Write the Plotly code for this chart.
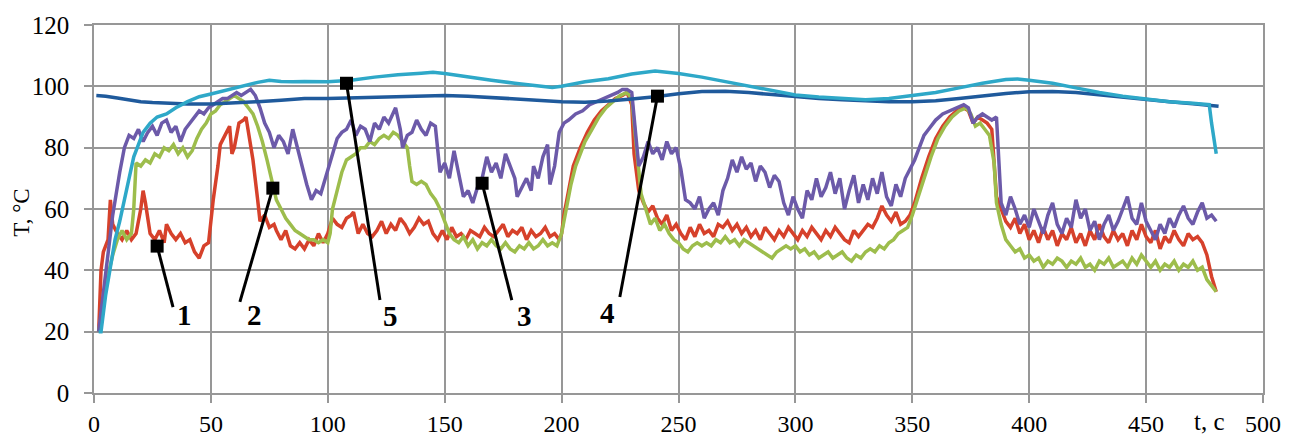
import plotly.graph_objects as go

# ---- data ----
t_red = [2,3,4,6,7,8,10,12,14,16,18,20,21,22,24,26,28,30,31,33,35,37,39,41,43,45,47,49,50,51,53,54,56,58,59,60,62,64,65,66,68,70,71,73,75,77,78,80,82,84,86,88,90,92,94,96,98,100,102,104,106,108,110,111,113,115,117,119,121,123,125,127,129,131,133,135,137,139,141,143,145,147,149,151,153,155,157,159,161,163,165,167,169,171,173,175,177,179,181,183,185,187,189,191,193,195,197,199,200,201,203,205,208,211,214,217,220,223,226,228,230,231,233,235,237,239,241,243,245,247,249,251,253,255,257,259,261,263,265,267,269,271,273,275,277,279,281,283,285,287,289,291,293,295,297,299,301,303,305,307,309,311,313,315,317,319,321,323,325,327,329,331,333,335,337,339,341,343,345,347,349,351,354,357,360,363,366,369,372,374,376,378,380,382,384,385,386,388,390,392,394,396,398,400,402,404,406,408,410,412,414,416,418,420,422,424,426,428,430,432,434,436,438,440,442,444,446,448,450,452,454,456,458,460,462,464,466,468,470,472,474,476,478,480]
T_red = [20,40,46,50,63,55,52,50,53,50,52,60,66,62,52,50,53,49,55,52,50,52,49,50,46,44,48,49,56,63,74,81,84,87,78,80,88,89,90,85,76,63,56,58,54,55,53,50,53,48,47,49,47,50,48,52,49,52,57,55,54,57,58,59,52,55,52,51,53,56,52,55,53,57,55,52,54,57,55,56,52,50,53,50,54,51,52,50,53,52,51,54,52,51,53,55,51,53,52,54,50,53,51,52,54,51,52,50,52,58,66,74,80,85,89,92,94,96,97,98,94,78,66,62,59,61,57,55,58,53,55,52,50,54,51,55,52,53,51,55,54,56,53,55,52,54,51,53,50,54,52,50,53,51,54,52,50,53,51,54,52,50,53,51,54,52,50,49,53,51,53,55,54,57,61,58,56,59,55,56,58,62,70,77,83,87,90,92,93,92,88,90,89,88,86,75,64,60,56,54,57,52,55,50,53,49,54,50,53,48,52,50,54,49,52,48,53,50,55,51,49,53,50,52,48,53,50,55,51,49,53,47,51,49,53,50,48,52,50,51,49,45,38,33]

t_green = [2,5,8,10,12,14,16,17,18,20,22,24,26,28,30,32,34,36,38,40,42,44,46,48,50,52,54,56,58,60,62,64,66,68,70,72,74,76,78,80,82,84,86,88,90,92,94,96,98,100,101,102,104,106,108,110,112,114,116,118,120,122,124,126,128,130,132,134,135,136,138,140,142,144,146,148,150,152,154,156,158,160,162,164,166,168,170,172,174,176,178,180,182,184,186,188,190,192,194,196,198,200,202,204,206,208,210,213,216,219,222,225,228,230,232,234,236,238,240,242,244,246,248,250,252,254,256,258,260,262,264,266,268,270,272,274,276,278,280,282,284,286,288,290,292,294,296,298,300,302,304,306,308,310,312,314,316,318,320,322,324,326,328,330,332,334,336,338,340,342,344,346,348,350,352,355,358,361,364,367,370,373,375,377,379,381,383,385,386,388,390,392,394,396,398,400,402,404,406,408,410,412,414,416,418,420,422,424,426,428,430,432,434,436,438,440,442,444,446,448,450,452,454,456,458,460,462,464,466,468,470,472,474,476,478,480]
T_green = [20,35,45,50,53,50,52,60,75,74,76,75,78,77,80,79,81,78,80,77,79,83,86,88,91,92,94,95,96,97,96,95,93,91,87,82,76,69,63,60,57,55,53,52,51,50,50,49,50,49,52,60,66,72,76,77,78,80,80,82,81,83,84,83,85,84,82,80,74,69,68,69,68,65,63,60,56,52,50,49,51,48,50,47,49,48,50,48,47,49,47,46,48,47,49,47,48,50,48,49,48,52,60,68,74,78,82,86,90,93,95,97,98,96,80,65,60,55,57,53,55,52,50,49,47,46,48,49,48,49,48,50,49,51,49,50,48,50,49,48,47,46,45,44,46,47,48,47,48,46,47,45,46,44,45,46,44,45,46,44,43,45,44,46,47,46,48,47,49,50,52,53,54,58,63,70,77,83,87,90,92,93,91,87,88,86,84,75,62,55,50,48,46,47,44,45,43,44,41,43,42,44,43,41,43,42,44,41,42,40,43,42,44,41,42,43,41,44,42,45,43,41,43,40,42,41,43,40,42,41,43,40,41,37,35,33]

t_purple = [2,5,8,11,13,15,17,19,21,23,25,27,29,31,33,35,37,39,41,43,45,47,49,51,53,55,57,59,61,63,65,67,69,71,73,75,77,79,81,83,85,87,89,91,93,95,97,99,101,102,104,106,108,110,112,114,116,118,120,122,124,126,128,129,131,132,134,136,138,140,142,144,146,148,150,152,154,156,158,160,162,164,166,168,170,172,174,176,178,180,181,183,185,187,188,190,192,194,195,197,199,201,203,206,209,212,215,218,221,224,226,228,230,231,232,233,235,237,239,241,243,245,247,249,251,253,255,257,259,261,263,265,267,269,271,273,275,277,279,281,283,285,287,289,291,293,295,297,299,301,303,305,307,309,311,313,315,317,319,321,323,325,327,329,331,333,335,337,339,341,343,345,347,349,351,353,355,357,360,363,366,369,372,374,376,378,380,382,384,386,387,388,390,392,394,396,398,400,402,404,406,408,410,412,414,416,418,420,422,424,426,428,430,432,434,436,438,440,442,444,446,448,450,452,454,456,458,460,462,464,466,468,470,472,474,476,478,480]
T_purple = [20,40,58,72,80,84,83,86,82,85,87,84,88,89,85,87,82,86,88,90,92,91,93,94,95,96,96,97,98,97,98,99,97,93,88,85,80,84,82,78,86,80,73,68,63,66,65,70,75,78,83,85,86,89,84,87,86,82,88,86,90,88,91,93,86,80,84,85,89,86,84,88,87,72,75,70,79,72,64,66,62,67,70,77,72,75,70,78,74,70,64,67,70,66,74,70,77,81,68,74,85,88,89,91,92,94,95,96,97,98,99,99,98,90,80,74,77,82,78,80,76,82,78,80,73,63,62,60,64,57,60,62,58,66,70,76,72,77,73,75,69,74,72,67,71,69,62,58,64,60,57,66,63,70,64,67,72,65,70,60,66,71,62,68,63,70,65,72,64,61,68,64,70,73,76,80,84,86,89,91,92,93,94,93,88,90,91,90,89,90,75,62,58,64,60,55,58,54,60,56,52,58,62,55,52,57,54,63,57,60,53,56,50,55,58,53,56,60,64,57,55,62,56,53,50,55,52,57,54,58,61,57,55,59,62,57,58,56]

t_cyan = [2,3,5,7,9,11,13,15,17,19,21,24,27,31,35,40,45,50,55,60,65,70,75,80,85,90,100,110,120,130,140,145,150,160,170,180,190,196,200,210,220,230,240,250,260,270,280,290,300,310,320,330,340,350,360,370,380,390,395,400,410,420,430,440,450,460,470,477,478,479,480]
T_cyan = [20,20,32,41,50,56,63,70,77,81,85,88,90,91,93,95,96.6,97.5,98.5,99.4,100.5,101.3,102,101.6,101.5,101.6,101.5,102,103,103.8,104.3,104.6,104.2,103,102,101,100.2,99.6,100,101.5,102.5,104,105,104.2,103,101.5,100,98.5,97.2,96.5,96,95.6,96,97,98,99.5,101,102.2,102.4,102,101,99.5,98,96.8,95.8,95,94.5,94,88,82,78]

t_blue = [1,5,10,15,20,25,30,35,40,50,60,70,80,90,100,110,120,130,140,150,160,170,180,190,200,210,220,230,240,250,260,270,280,290,300,310,320,330,340,350,360,370,380,390,400,410,420,430,440,450,460,470,478,481]
T_blue = [97,96.8,96.2,95.6,95,94.7,94.5,94.3,94.2,94.2,94.5,95,95.5,96,96,96.2,96.5,96.8,97,97,96.8,96.3,95.8,95.3,95,94.8,95.2,95.9,96.6,97.6,98.3,98.4,98,97.3,96.6,96,95.6,95.3,95,95,95.3,96,96.8,97.7,98.2,98.3,98,97.2,96.5,95.8,95,94.3,93.6,93.5]

x_ticks = [0, 50, 100, 150, 200, 250, 300, 350, 400, 450, 500]
y_ticks = [0, 20, 40, 60, 80, 100, 120]

label_names = ["1", "2", "5", "3", "4"]
marker_t = [27, 76.5, 108, 166, 241]
marker_T = [47.9, 66.8, 101, 68.4, 96.8]
leader_end_t = [33.8, 62.4, 122.3, 178.7, 224.9]
leader_end_T = [28, 29.7, 30.3, 30.3, 31.3]
label_t = [38.5, 68.8, 127, 184.3, 219.8]
label_T = [25.4, 25.4, 25, 25, 26]

# ---- figure ----
fig = go.Figure()
series = [
    (t_red, T_red, "#d6412b"),
    (t_green, T_green, "#9dbd4c"),
    (t_purple, T_purple, "#6c5aa9"),
    (t_blue, T_blue, "#1f5a9c"),
    (t_cyan, T_cyan, "#2ea8c8"),
]
for tx, ty, col in series:
    fig.add_trace(go.Scatter(x=tx, y=ty, mode="lines",
                             line=dict(color=col, width=3.5), showlegend=False,
                             hoverinfo="skip"))

for i in range(len(label_names)):
    fig.add_trace(go.Scatter(x=[marker_t[i], leader_end_t[i]], y=[marker_T[i], leader_end_T[i]],
                             mode="lines", line=dict(color="black", width=3),
                             showlegend=False, hoverinfo="skip"))
fig.add_trace(go.Scatter(x=marker_t, y=marker_T, mode="markers",
                         marker=dict(symbol="square", size=13, color="black"),
                         showlegend=False, hoverinfo="skip"))
for i, name in enumerate(label_names):
    fig.add_annotation(x=label_t[i], y=label_T[i], text="<b>" + name + "</b>",
                       showarrow=False, xref="x", yref="y",
                       font=dict(family="Liberation Serif", size=29, color="black"))

grid_col = "#979797"
fig.update_xaxes(range=[0, 500], tickvals=x_ticks, showgrid=True, gridcolor=grid_col,
                 gridwidth=1.5, showline=True, linecolor=grid_col, linewidth=1.5, mirror=True,
                 ticks="outside", ticklen=8, tickcolor=grid_col, tickwidth=1.5,
                 zeroline=False, ticklabelstandoff=0, automargin=False,
                 tickfont=dict(family="Liberation Serif", size=24, color="black"))
fig.update_yaxes(range=[0, 120], tickvals=y_ticks, showgrid=True, gridcolor=grid_col,
                 gridwidth=1.5, showline=True, linecolor=grid_col, linewidth=1.5, mirror=True,
                 ticks="outside", ticklen=8, tickcolor=grid_col, tickwidth=1.5,
                 zeroline=False, ticklabelstandoff=10, automargin=False,
                 tickfont=dict(family="Liberation Serif", size=25, color="black"))

fig.add_annotation(xref="paper", yref="paper", x=0, y=0.49, xshift=-72,
                   xanchor="center", yanchor="middle",
                   text="T, °C", textangle=-90, showarrow=False,
                   font=dict(family="Liberation Serif", size=23, color="black"))
fig.add_annotation(xref="x", yref="paper", x=477, y=0, yshift=-28,
                   xanchor="center", yanchor="middle",
                   text="t, c", showarrow=False,
                   font=dict(family="Liberation Serif", size=25, color="black"))

fig.update_layout(width=1296, height=437, margin=dict(l=94, r=33, t=25, b=44),
                  plot_bgcolor="white", paper_bgcolor="white")
fig.write_html("out.html")
